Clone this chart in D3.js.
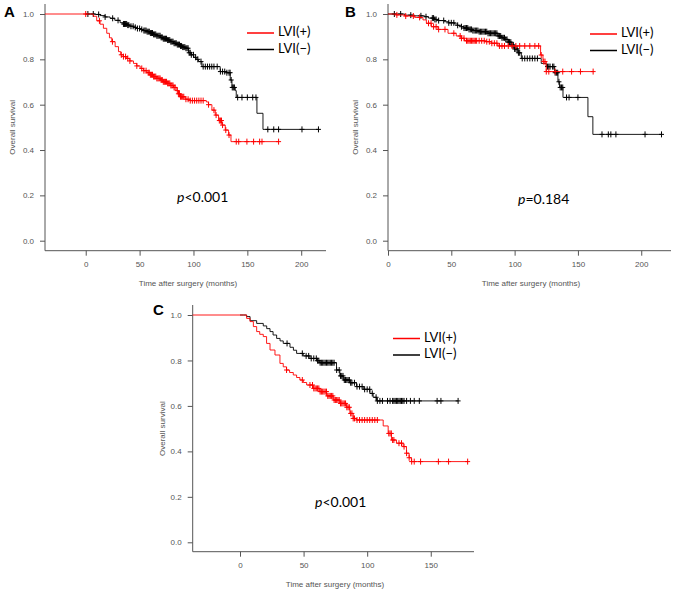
<!DOCTYPE html>
<html><head><meta charset="utf-8">
<script src="https://cdn.jsdelivr.net/npm/d3@7"></script>
<style>body{margin:0;background:#fff}svg{display:block}</style>
</head><body>
<svg id="c" width="677" height="595"></svg>
<script>
// ---------- DATA ----------
const yTicks = [0, 0.2, 0.4, 0.6, 0.8, 1.0];
const xTicksAB = [0, 50, 100, 150, 200];
const xTicksC = [0, 50, 100, 150];
const legendLabels = ["LVI(+)", "LVI(\u2212)"];
const pLabels = ["<0.001", "=0.184", "<0.001"];
const panelLetters = ["A", "B", "C"];

// Panel A - step points [time, survival]
const A_pos = [[-40,1],[2.5,1],[7.1,0.99],[10.2,0.97],[13.3,0.955],[16.4,0.937],[19.5,0.915],[22,0.895],[24.2,0.878],[27.3,0.856],[30.4,0.834],[32.5,0.82],[35,0.812],[38.1,0.804],[41,0.793],[44.3,0.782],[47.4,0.771],[50.5,0.76],[53.6,0.75],[56.8,0.741],[60,0.732],[63,0.724],[66,0.716],[69.1,0.709],[72,0.701],[75.3,0.694],[78.4,0.685],[81.5,0.676],[84.6,0.662],[86,0.648],[87.7,0.635],[92.3,0.624],[97,0.618],[112,0.612],[114,0.6],[117.1,0.576],[120.2,0.554],[123.3,0.53],[126.4,0.51],[129.5,0.488],[132.6,0.466],[134.8,0.437],[179,0.437]];
const A_neg = [[0,1],[4,1],[9,0.998],[13.3,0.993],[18,0.987],[22.6,0.981],[27,0.972],[31.9,0.962],[35,0.956],[38.1,0.951],[41,0.946],[44.3,0.941],[47.4,0.936],[50.5,0.932],[53.6,0.927],[56.7,0.922],[59.8,0.916],[62.9,0.91],[66,0.904],[69.1,0.897],[72,0.891],[75.3,0.885],[78.4,0.878],[81.5,0.871],[84.6,0.865],[87.7,0.859],[90,0.854],[92.3,0.849],[95.4,0.829],[98,0.82],[100.1,0.809],[102.5,0.8],[104.7,0.79],[107.8,0.768],[121.7,0.768],[124.8,0.746],[131,0.741],[134.1,0.709],[135.7,0.676],[138.8,0.662],[139.7,0.632],[158.9,0.562],[164.5,0.491],[216.2,0.491]];
const A_posCens = [0,12.7,24.8,33,35,37,39,41,47.4,52,54,56,58,59,60,61,62,63,64,65,66,67,68,69,70,71,72,73,74,75,76,77,78,79,80,81,82,83,85,86,87,88,89,90,91,93,95,97,99,101,103,105,107,109,114,119,121,124,125,126,127,130,133,139.7,142,149.6,155.8,161.4,163.6,179];
const A_negCens = [2,7,12,18,25,30,35,36,37,38,39,40,42,44,46,48,50,52,54,55,56,57,58,59,60,61,62,63,64,65,66,67,68,69,70,71,72,73,74,75,76,77,78,79,80,81,82,83,84,85,86,87,88,89,90,91,92,93,94,95,96,97,98,100,102,104,107,109,111,113,115,117,119,122,125,127,129,131,133,134,135,136,137,138,141,145,150,155,158,169,174.5,179,200.7,216];

// Panel B
const B_pos = [[0,1],[4,1],[6.6,0.996],[13.2,0.991],[21,0.985],[27.6,0.974],[30.3,0.959],[34.2,0.944],[39.5,0.932],[47.4,0.915],[53.9,0.903],[57.9,0.893],[60.5,0.882],[76.3,0.878],[81.6,0.871],[86.8,0.859],[119.7,0.859],[120.5,0.819],[122.4,0.79],[125,0.746],[161.8,0.746]];
const B_neg = [[0,1],[8,1],[13.2,0.995],[21,0.992],[28.9,0.988],[32,0.982],[36.8,0.976],[40,0.971],[44.7,0.966],[48,0.961],[52.6,0.956],[55,0.95],[57.9,0.944],[60,0.938],[63.2,0.932],[67,0.927],[71.1,0.922],[78.9,0.915],[86.8,0.903],[90,0.895],[92.1,0.888],[95,0.876],[97.4,0.863],[100,0.846],[102.6,0.829],[105.3,0.804],[118.4,0.804],[121,0.782],[125,0.768],[131.6,0.741],[134.2,0.701],[135.5,0.676],[138.2,0.632],[157.9,0.547],[161.8,0.469],[215.8,0.469]];
const B_posCens = [7,14,20,25,32,34,36,38,40,45,52,57,58,60,62,63,64,65,66,67,68,69,70,72,74,76,78,80,82,84,86,88,90,92,95,98,101,104,108,112,116,119,121,123,124,125,127,132,138,145,152,162];
const B_negCens = [5,10,18,26,30,35,36,37,38,40,44,48,50,52,55,58,60,61,62,63,64,65,66,67,68,69,70,71,72,73,74,75,76,77,78,79,80,81,82,83,84,85,86,87,88,89,90,91,92,93,94,95,96,97,98,99,100,101,102,103,104,106,108,110,112,114,116,118,126,127,128,130,131,132,133,134,135,136,137,138,141,143,150,169,174,176,180,203,216];

// Panel C
const C_pos = [[-40,1],[2.6,1],[5.2,0.985],[7.9,0.971],[10.5,0.949],[13.1,0.927],[15.5,0.915],[18.3,0.905],[20.9,0.875],[23.6,0.846],[27.5,0.824],[31.4,0.787],[34,0.772],[36.6,0.758],[39,0.747],[41.9,0.736],[44.5,0.725],[47.1,0.714],[49.8,0.703],[52.4,0.692],[57.6,0.677],[62.8,0.663],[68.1,0.644],[73.3,0.626],[78.5,0.611],[83.8,0.594],[86.4,0.567],[89,0.545],[91.6,0.538],[109.9,0.538],[112.6,0.512],[116.5,0.479],[119.1,0.45],[123,0.436],[128.3,0.421],[130.9,0.392],[133,0.372],[134.8,0.355],[179.3,0.355]];
const C_neg = [[0,1],[3,1],[5.2,0.993],[7.9,0.975],[13.1,0.963],[18.3,0.952],[21,0.94],[23.6,0.927],[26,0.912],[28.8,0.897],[31.5,0.886],[34,0.875],[39.3,0.858],[42,0.845],[44.5,0.831],[49.7,0.82],[55,0.809],[60.2,0.799],[62.8,0.79],[73.3,0.79],[75.9,0.758],[78.5,0.732],[81.2,0.714],[86.4,0.702],[91.6,0.685],[96.9,0.673],[102.1,0.655],[104.7,0.638],[107.3,0.622],[171.5,0.622]];
const C_posCens = [36.6,49,55,57,58,59,60,61,62,63,64,65,66,67,68,69,70,71,72,73,74,75,76,77,78,79,80,81,82,83,84,85,86,87,88,89,90,92,94,96,98,100,102,104,106,108,117,118,119,120,121,125,127,129,131,133,135,137,142,156,164,179];
const C_negCens = [37,49,52,54,56,58,60,61,62,63,64,65,66,67,68,69,70,71,72,73,74,76,78,79,80,81,82,83,84,85,86,87,88,90,92,94,96,98,100,102,104,107,108,110,112,116,118,120,121,122,123,124,125,126,127,128,129,131,134,137,141,155,158,171.5];

// ---------- DRAWING ----------
const svg = d3.select("#c");
const RED = "#ff0000", BLK = "#000000", AX = "#555555";

const panels = [
  {letter: panelLetters[0], x0:45, x1:326, xd:[-37.8,223], yTop:14, yBot:240.7, axisY:250.7, boxTop:4,
   xticks:xTicksAB, pos:A_pos, neg:A_neg, posC:A_posCens, negC:A_negCens, p:pLabels[0],
   letterXY:[4,17], leg:[247,33], pXY:[177,202], ytitleX:13, xtitleX:188},
  {letter: panelLetters[1], x0:388, x1:671, xd:[0,223.5], yTop:14, yBot:240.7, axisY:250.7, boxTop:4,
   xticks:xTicksAB, pos:B_pos, neg:B_neg, posC:B_posCens, negC:B_negCens, p:pLabels[1],
   letterXY:[345,17], leg:[590,34], pXY:[518,204], ytitleX:356, xtitleX:531},
  {letter: panelLetters[2], x0:192.7, x1:474, xd:[-37.2,184], yTop:315, yBot:542.3, axisY:551.7, boxTop:305,
   xticks:xTicksC, pos:C_pos, neg:C_neg, posC:C_posCens, negC:C_negCens, p:pLabels[2],
   letterXY:[153,315], leg:[393,338.5], pXY:[315,507], ytitleX:163, xtitleX:335}
];

function survAt(steps, t){
  let s = steps[0][1];
  for (const d of steps){ if (d[0] <= t) s = d[1]; else break; }
  return s;
}

panels.forEach(P => {
  const g = svg.append("g");
  const x = d3.scaleLinear().domain(P.xd).range([P.x0, P.x1]);
  const y = d3.scaleLinear().domain([0,1]).range([P.yBot, P.yTop]);
  const clipId = "clip" + P.letter;
  svg.append("clipPath").attr("id", clipId).append("rect")
    .attr("x", P.x0).attr("y", P.boxTop).attr("width", P.x1-P.x0).attr("height", P.axisY-P.boxTop);

  g.append("line").attr("x1",P.x0).attr("x2",P.x0).attr("y1",P.boxTop).attr("y2",P.axisY)
    .attr("stroke",AX).attr("stroke-width",1);
  g.append("line").attr("x1",P.x0).attr("x2",P.x1).attr("y1",P.axisY).attr("y2",P.axisY)
    .attr("stroke",AX).attr("stroke-width",1);

  const yAxis = d3.axisLeft(y).tickValues(yTicks).tickFormat(d3.format(".1f")).tickSize(5).tickPadding(6);
  const ya = g.append("g").attr("transform",`translate(${P.x0},0)`).call(yAxis);
  const xAxis = d3.axisBottom(x).tickValues(P.xticks).tickFormat(d3.format("d")).tickSize(5).tickPadding(6);
  const xa = g.append("g").attr("transform",`translate(0,${P.axisY})`).call(xAxis);
  [ya, xa].forEach(a => {
    a.select(".domain").remove();
    a.selectAll(".tick line").attr("stroke",AX);
    a.selectAll(".tick text").attr("fill",AX).style("font-family","'Liberation Sans', Arial, sans-serif").style("font-size","8px");
  });

  g.append("text").attr("transform",`translate(${P.ytitleX},${(P.yTop+P.yBot)/2}) rotate(-90)`)
    .attr("text-anchor","middle").attr("dominant-baseline","middle")
    .attr("fill",AX).style("font-family","'Liberation Sans', Arial, sans-serif").style("font-size","8px")
    .text("Overall survival");
  g.append("text").attr("x",P.xtitleX).attr("y",P.axisY+35).attr("text-anchor","middle")
    .attr("fill",AX).style("font-family","'Liberation Sans', Arial, sans-serif").style("font-size","8px")
    .text("Time after surgery (months)");

  const line = d3.line().x(d=>x(d[0])).y(d=>y(d[1])).curve(d3.curveStepAfter);
  const cg = g.append("g").attr("clip-path",`url(#${clipId})`);
  [[P.neg, P.negC, BLK],[P.pos, P.posC, RED]].forEach(([steps, cens, col]) => {
    cg.append("path").attr("d", line(steps)).attr("fill","none").attr("stroke",col).attr("stroke-width",0.9);
    const m = cg.append("g").attr("stroke",col).attr("stroke-width",1);
    cens.forEach(t => {
      const cx = x(t), cy = y(survAt(steps,t));
      m.append("line").attr("x1",cx-2.5).attr("x2",cx+2.5).attr("y1",cy).attr("y2",cy);
      m.append("line").attr("x1",cx).attr("x2",cx).attr("y1",cy-3).attr("y2",cy+3);
    });
  });

  legendLabels.forEach((lab,i) => {
    const ly = P.leg[1] + i*16.5;
    g.append("line").attr("x1",P.leg[0]).attr("x2",P.leg[0]+27).attr("y1",ly).attr("y2",ly)
      .attr("stroke", i===0?RED:BLK).attr("stroke-width",1.5);
    g.append("text").attr("x",P.leg[0]+31).attr("y",ly).attr("dominant-baseline","middle")
      .style("font-family","Lato, 'Open Sans', sans-serif").style("font-size","13px").attr("fill","#000").text(lab);
  });

  const pt = g.append("text").attr("x",P.pXY[0]).attr("y",P.pXY[1])
    .style("font-family","Lato, 'Open Sans', sans-serif").style("font-size","14px").attr("fill","#000");
  pt.append("tspan").style("font-style","italic").text("p");
  pt.append("tspan").text(P.p);

  g.append("text").attr("x",P.letterXY[0]).attr("y",P.letterXY[1])
    .style("font-family","'Liberation Sans', Arial, sans-serif").style("font-weight","bold").style("font-size","15px")
    .text(P.letter);
});
</script>
</body></html>
